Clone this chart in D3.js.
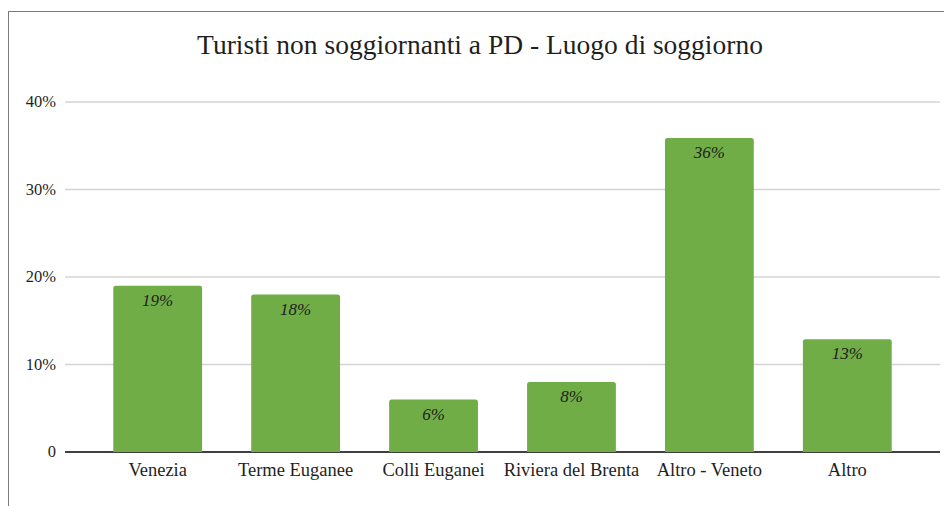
<!DOCTYPE html>
<html>
<head>
<meta charset="utf-8">
<script src="https://cdn.jsdelivr.net/npm/d3@7"></script>
</head>
<body style="margin:0; background:#fff">
<div id="chart"></div>
<script>
// Data --------------------------------------------------
const categories = ["Venezia", "Terme Euganee", "Colli Euganei", "Riviera del Brenta", "Altro - Veneto", "Altro"]
const values = [0.19, 0.18, 0.06, 0.08, 0.359, 0.129]
const yTicks = [0, 0.1, 0.2, 0.3, 0.4]
const title = "Turisti non soggiornanti a PD - Luogo di soggiorno"

// Canvas setup ------------------------------------------
const W = 944, H = 506
const PLOT = {LEFT: 65, RIGHT: 940, TOP: 102, BOTTOM: 452}
const FONT = "'Liberation Serif'"
const INK = "#1f1f1f"

const svg = d3.select("#chart").append("svg")
    .attr("width", W)
    .attr("height", H)

// chart frame
svg.append("rect")
    .attr("x", 8.5).attr("y", 11.5)
    .attr("width", 960).attr("height", 520)
    .attr("fill", "none")
    .attr("stroke", "#7a7a7a")
    .attr("stroke-width", 1)

svg.append("text")
    .attr("x", 480).attr("y", 54)
    .attr("text-anchor", "middle")
    .attr("font-family", FONT)
    .attr("font-size", "27.5px")
    .attr("fill", INK)
    .text(title)

// Scales ------------------------------------------------
const x = d3.scaleBand()
    .domain(categories)
    .range([PLOT.LEFT, PLOT.RIGHT])
    .paddingInner(0.356)
    .paddingOuter(0.35)

const y = d3.scaleLinear()
    .domain([0, 0.4])
    .range([PLOT.BOTTOM, PLOT.TOP])

// Grid + y labels ---------------------------------------
svg.append("g").selectAll("line")
    .data(yTicks.filter(d => d > 0))
    .join("line")
    .attr("x1", PLOT.LEFT).attr("x2", PLOT.RIGHT)
    .attr("y1", d => y(d)).attr("y2", d => y(d))
    .attr("stroke", "#d4d4d4")
    .attr("stroke-width", 1.5)

svg.append("g").selectAll("text")
    .data(yTicks)
    .join("text")
    .attr("x", 56)
    .attr("y", d => y(d) + 5)
    .attr("text-anchor", "end")
    .attr("font-family", FONT)
    .attr("font-size", "16.5px")
    .attr("fill", INK)
    .text(d => d === 0 ? "0" : Math.round(d * 100) + "%")

// baseline
svg.append("line")
    .attr("x1", PLOT.LEFT).attr("x2", PLOT.RIGHT)
    .attr("y1", y(0)).attr("y2", y(0))
    .attr("stroke", "#404040")
    .attr("stroke-width", 2)

// Bars --------------------------------------------------
const rows = categories.map((c, i) => ({cat: c, v: values[i]}))

function topRounded(x0, y0, w, h, r) {
  return `M${x0},${y0 + h} V${y0 + r} Q${x0},${y0} ${x0 + r},${y0} H${x0 + w - r} Q${x0 + w},${y0} ${x0 + w},${y0 + r} V${y0 + h} Z`
}

svg.append("g").selectAll("path")
    .data(rows)
    .join("path")
    .attr("d", d => topRounded(x(d.cat), y(d.v), x.bandwidth(), y(0) - y(d.v), 2.5))
    .attr("fill", "#70ad47")

// data labels
svg.append("g").selectAll("text")
    .data(rows)
    .join("text")
    .attr("x", d => x(d.cat) + x.bandwidth() / 2)
    .attr("y", d => y(d.v) + 20)
    .attr("text-anchor", "middle")
    .attr("font-family", FONT)
    .attr("font-size", "17px")
    .attr("font-style", "italic")
    .attr("fill", INK)
    .text(d => Math.round(d.v * 100) + "%")

// category labels
svg.append("g").selectAll("text")
    .data(categories)
    .join("text")
    .attr("x", d => x(d) + x.bandwidth() / 2)
    .attr("y", 476)
    .attr("text-anchor", "middle")
    .attr("font-family", FONT)
    .attr("font-size", "18.5px")
    .attr("fill", INK)
    .text(d => d)
</script>
</body>
</html>
